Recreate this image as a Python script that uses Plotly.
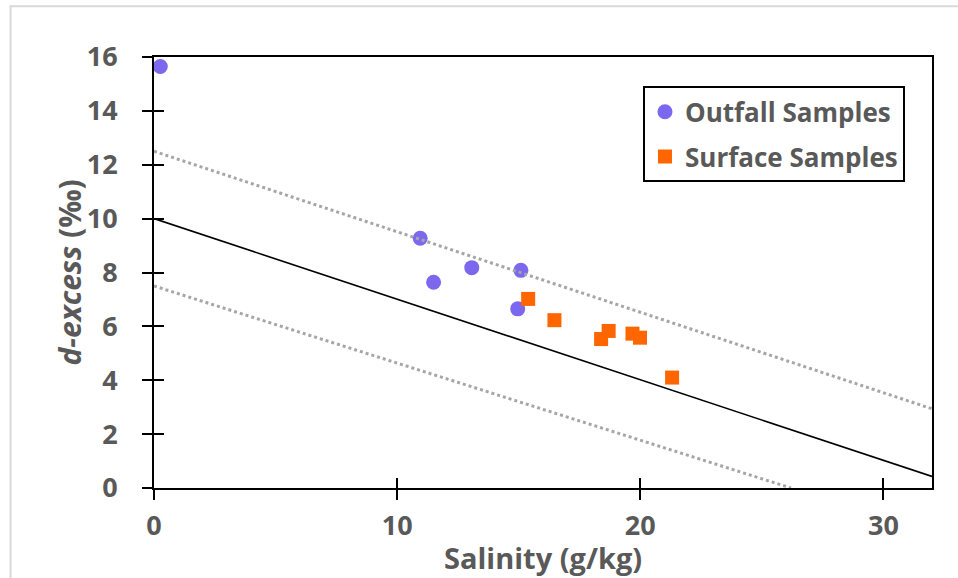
import plotly.graph_objects as go

# Outfall samples: salinity (g/kg) vs d-excess (‰)
outfall_salinity = [0.26, 10.95, 11.5, 13.07, 15.09, 14.96]
outfall_dexcess = [15.65, 9.27, 7.64, 8.18, 8.08, 6.65]

# Surface samples
surface_salinity = [15.39, 16.47, 18.39, 18.7, 19.68, 19.99, 21.31]
surface_dexcess = [7.02, 6.23, 5.53, 5.83, 5.73, 5.58, 4.10]

# Mixing line and its upper / lower envelopes (end points)
mix_x = [0, 32]
mix_y = [10.0, 0.43]
upper_x = [0, 32]
upper_y = [12.5, 2.94]
lower_x = [0, 26.2]
lower_y = [7.5, 0.0]

x_ticks = [0, 10, 20, 30]
y_ticks = [0, 2, 4, 6, 8, 10, 12, 14, 16]

GRAY = "#595959"
FONT = "Open Sans"

fig = go.Figure()

fig.add_trace(go.Scatter(x=upper_x, y=upper_y, mode="lines", xaxis="x2", yaxis="y2",
                         line=dict(color="#A6A6A6", width=3, dash="dot"), showlegend=False))
fig.add_trace(go.Scatter(x=lower_x, y=lower_y, mode="lines", xaxis="x2", yaxis="y2",
                         line=dict(color="#A6A6A6", width=3, dash="dot"), showlegend=False))
fig.add_trace(go.Scatter(x=mix_x, y=mix_y, mode="lines", xaxis="x2", yaxis="y2",
                         line=dict(color="black", width=1.6), showlegend=False))

fig.add_trace(go.Scatter(x=outfall_salinity, y=outfall_dexcess, mode="markers",
                         name="Outfall Samples", legendgroup="outfall",
                         marker=dict(symbol="circle", size=15, color="#7B68EE")))
fig.add_trace(go.Scatter(x=surface_salinity, y=surface_dexcess, mode="markers",
                         name="Surface Samples", legendgroup="surface",
                         marker=dict(symbol="square", size=14, color="#FF6600")))

axis_font = dict(family=FONT, size=27, color=GRAY, weight="bold")
title_font = dict(family=FONT, size=29, color=GRAY, weight="bold")

common_x = dict(range=[0, 32], tickvals=x_ticks, showgrid=False, zeroline=False)
common_y = dict(range=[0, 16], tickvals=y_ticks, showgrid=False, zeroline=False)

fig.update_layout(
    width=958, height=578,
    margin=dict(l=154, r=26, t=57, b=90),
    paper_bgcolor="white", plot_bgcolor="white",
    xaxis=dict(**common_x, showline=True, linecolor="black", linewidth=2, mirror=True,
               ticks="outside", ticklen=10, tickwidth=2, tickcolor="black",
               tickfont=axis_font, ticklabelstandoff=3),
    yaxis=dict(**common_y, showline=True, linecolor="black", linewidth=2, mirror=True,
               ticks="outside", ticklen=10, tickwidth=2, tickcolor="black",
               tickfont=axis_font, ticklabelstandoff=19),
    xaxis2=dict(**common_x, overlaying="x", anchor="y2", side="bottom", showline=False,
                ticks="inside", ticklen=10, tickwidth=2, tickcolor="black",
                showticklabels=False),
    yaxis2=dict(**common_y, overlaying="y", anchor="x2", side="left", showline=False,
                ticks="inside", ticklen=10, tickwidth=2, tickcolor="black",
                showticklabels=False),
    legend=dict(x=0.6285, y=0.932, xanchor="left", yanchor="top",
                bordercolor="black", borderwidth=2, bgcolor="white",
                font=dict(family=FONT, size=26, color=GRAY, weight="bold"),
                itemsizing="trace", tracegroupgap=8, itemwidth=30),
    annotations=[
        dict(text="Salinity (g/kg)", xref="paper", yref="paper", x=0.5, y=-0.161,
             xanchor="center", yanchor="middle", showarrow=False, font=title_font),
        dict(text="<i>d-excess</i> (‰)", xref="paper", yref="paper", x=-0.108, y=0.5,
             xanchor="center", yanchor="middle", textangle=-90, showarrow=False,
             font=dict(family=FONT, size=30, color=GRAY, weight="bold")),
    ],
    shapes=[dict(type="rect", xref="paper", yref="paper",
                 x0=-0.1844, x1=1.2, y0=-0.5, y1=1.1175,
                 line=dict(color="#D9D9D9", width=2), fillcolor="rgba(0,0,0,0)",
                 layer="below")],
)

fig.write_html("out.html")
